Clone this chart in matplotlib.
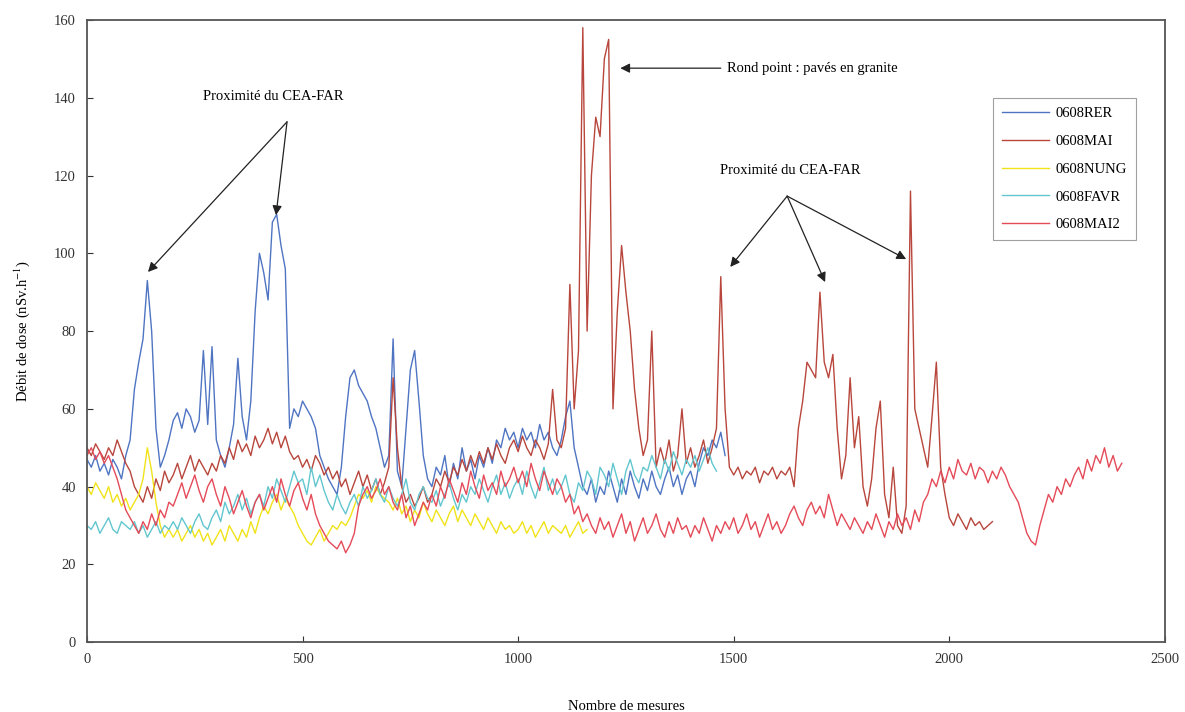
import numpy as np
import matplotlib
matplotlib.use("Agg")
import matplotlib.pyplot as plt

plt.rcParams['font.family'] = ['Liberation Serif', 'DejaVu Serif']
plt.rcParams['mathtext.fontset'] = 'stix'

STEP = 10  # measures between read-off points

series_names = ["0608RER", "0608MAI", "0608NUNG", "0608FAVR", "0608MAI2"]

rer = [47, 45, 48, 44, 46, 43, 47, 45, 42, 48,
       52, 65, 72, 78, 93, 80, 55, 45, 48, 52,
       57, 59, 55, 60, 58, 54, 57, 75, 56, 76,
       52, 48, 45, 50, 56, 73, 58, 52, 62, 85,
       100, 95, 88, 108, 110, 102, 96, 55, 60, 58,
       62, 60, 58, 55, 48, 45, 42, 40, 38, 45,
       58, 68, 70, 66, 64, 62, 58, 55, 50, 45,
       48, 78, 44, 40, 55, 70, 75, 62, 48, 42,
       40, 45, 43, 48, 40, 46, 42, 50, 44, 47,
       42, 48, 45, 50, 46, 52, 50, 55, 52, 54,
       50, 55, 52, 54, 50, 56, 52, 54, 50, 48,
       52, 58, 62, 50, 45, 40, 38, 42, 36, 40,
       38, 44, 40, 36, 42, 38, 44, 40, 37, 42,
       39, 44, 40, 38, 42, 45, 40, 43, 38, 42,
       44, 40, 46, 50, 48, 52, 50, 54, 48]

mai = [50, 48, 51, 49, 47, 50, 48, 52, 49, 46,
       44, 40, 38, 36, 40, 37, 42, 39, 44, 41,
       43, 46, 42, 45, 48, 44, 47, 45, 43, 46,
       44, 48, 46, 50, 47, 52, 49, 51, 48, 53,
       50, 52, 55, 51, 54, 50, 53, 49, 47, 48,
       45, 47, 44, 48, 46, 43, 45, 42, 44, 40,
       42, 38, 41, 44, 40, 43, 39, 42, 38, 41,
       45, 68, 50, 40, 36, 38, 35, 37, 40, 36,
       38, 42, 40, 44, 41, 45, 43, 47, 44, 48,
       45, 49, 46, 50, 47, 51, 48, 46, 50, 52,
       49, 53, 50, 48, 52, 50, 47, 51, 65, 52,
       50, 55, 92, 60, 75, 158, 80, 120, 135, 130,
       150, 155, 60, 85, 102, 90, 80, 65, 55, 48,
       52, 80, 45, 50, 46, 52, 44, 48, 60, 46,
       50, 45, 48, 52, 46, 50, 55, 94, 60, 45,
       43, 45, 42, 44, 43, 45, 41, 44, 43, 45,
       42, 44, 43, 45, 40, 55, 62, 72, 70, 68,
       90, 72, 68, 74, 55, 42, 48, 68, 50, 58,
       40, 35, 42, 55, 62, 38, 32, 45, 30, 28,
       35, 116, 60, 55, 50, 45, 58, 72, 45, 38,
       32, 30, 33, 31, 29, 32, 30, 31, 29, 30,
       31]

nung = [40, 38, 41, 39, 37, 40, 36, 38, 35, 37,
        34, 36, 38, 42, 50, 44, 36, 30, 27, 29,
        27, 29, 26, 28, 30, 27, 29, 26, 28, 25,
        27, 29, 26, 30, 28, 26, 29, 27, 31, 28,
        32, 35, 33, 36, 38, 34, 37, 35, 33, 30,
        28, 26, 25, 27, 29, 26, 28, 30, 29, 31,
        30, 32, 35, 38, 37, 39, 36, 40, 38, 37,
        36, 34, 37, 33, 35, 31, 34, 32, 36, 33,
        31, 34, 32, 30, 33, 35, 31, 34, 32, 30,
        33, 31, 29, 32, 30, 28, 31, 29, 30, 28,
        29, 31, 28, 30, 27, 29, 31, 28, 30, 29,
        28, 30, 27, 29, 31, 28, 29]

favr = [30, 29, 31, 28, 30, 32, 29, 28, 31, 30,
        29, 31, 28, 30, 27, 29, 31, 28, 30, 29,
        31, 29, 32, 30, 28, 31, 33, 30, 29, 32,
        34, 31, 36, 33, 35, 38, 34, 37, 33, 36,
        38, 35, 40, 37, 42, 39, 36, 40, 44, 41,
        42, 38, 45, 40, 43, 39, 36, 34, 38, 35,
        33, 36, 38, 35, 40, 37, 39, 42, 38, 36,
        40, 37, 35, 38, 42, 36, 34, 38, 40, 37,
        36, 39, 35, 38, 41, 37, 34, 38, 36, 40,
        38, 42, 39, 36, 40, 43, 38, 41, 37, 40,
        42, 38, 44, 40, 37, 41, 45, 39, 42, 38,
        40, 43, 38, 36, 41, 39, 44, 42, 38, 45,
        43, 40, 46, 42, 38, 44, 47, 43, 41, 45,
        44, 48, 45, 42, 47, 44, 49, 46, 43, 47,
        45, 48, 44, 47, 50, 46, 44]

mai2 = [48, 50, 47, 49, 46, 48, 45, 42, 38, 34,
        32, 30, 28, 31, 29, 33, 30, 34, 32, 36,
        35, 38, 41, 37, 40, 43, 39, 36, 40, 42,
        38, 35, 40, 37, 33, 36, 39, 35, 32, 36,
        38, 34, 37, 40, 36, 42, 38, 35, 39, 41,
        37, 34, 38, 33, 30, 28, 26, 25, 24, 26,
        23, 25, 28, 35, 38, 40, 37, 39, 42, 38,
        40, 36, 34, 38, 32, 35, 30, 33, 36, 34,
        38, 35, 40, 37, 42, 39, 36, 41, 38, 44,
        40, 37, 43, 39, 41, 38, 44, 40, 42, 45,
        41, 44, 40, 46, 42, 39, 44, 41, 38, 42,
        40, 36, 38, 33, 35, 31, 33, 30, 28, 32,
        29, 31, 27, 30, 33, 28, 31, 26, 29, 32,
        28, 30, 33, 29, 27, 31, 28, 32, 29, 30,
        27, 30, 28, 32, 29, 26, 30, 28, 31, 29,
        32, 28, 30, 33, 29, 31, 27, 30, 33, 29,
        31, 28, 30, 33, 35, 32, 30, 34, 36, 33,
        35, 32, 38, 34, 30, 33, 31, 29, 32, 30,
        28, 31, 29, 33, 30, 27, 31, 29, 33, 30,
        32, 29, 34, 31, 36, 38, 42, 40, 44, 41,
        45, 42, 47, 44, 43, 46, 42, 45, 44, 41,
        44, 42, 45, 43, 40, 38, 36, 32, 28, 26,
        25, 30, 34, 38, 36, 40, 38, 42, 40, 43,
        45, 42, 47, 44, 48, 46, 50, 45, 48, 44,
        46]

series_values = [rer, mai, nung, favr, mai2]
series_colors = ["#4F74C2", "#B8463C", "#F0E31A", "#62C6CF", "#E44A58"]

x_ticks = [0, 500, 1000, 1500, 2000, 2500]
y_ticks = [0, 20, 40, 60, 80, 100, 120, 140, 160]

fig = plt.figure(figsize=(11.85, 7.12), dpi=100)
ax = fig.add_axes([0.0734, 0.098, 0.9096, 0.874])

for name, vals, col in zip(series_names, series_values, series_colors):
    xs = np.arange(len(vals)) * STEP
    ax.plot(xs, vals, color=col, lw=1.0, label=name)

ax.set_xlim(0, 2500)
ax.set_ylim(0, 160)
ax.set_xticks(x_ticks)
ax.set_yticks(y_ticks)
ax.tick_params(direction='in', length=4, width=0.8, labelsize=10.5, colors='#333333', pad=8)
for sp in ax.spines.values():
    sp.set_color('#555555')
    sp.set_linewidth(1.3)

ax.set_xlabel("Nombre de mesures", fontsize=10.5, labelpad=24)
ax.set_ylabel(r"Débit de dose (nSv.h$^{-1}$)", fontsize=10.5, labelpad=16)

leg = ax.legend(loc='upper right', bbox_to_anchor=(0.98, 0.886), fontsize=10.5,
                frameon=True, fancybox=False, edgecolor='#888888', handlelength=3.2,
                labelspacing=1.0, borderpad=0.6, handletextpad=0.5)
leg.get_frame().set_linewidth(0.8)

aprops = dict(arrowstyle='-|>', color='#222222', lw=0.9, mutation_scale=14, shrinkA=0, shrinkB=0)

ax.text(431, 140.2, "Proximité du CEA-FAR", ha='center', va='center', fontsize=10.5)
for tx, ty in [(141.5, 95.2), (438.5, 109.8)]:
    ax.annotate("", xy=(tx, ty), xytext=(464, 133.8), arrowprops=aprops)

ax.text(1485, 147.6, "Rond point : pavés en granite", ha='left', va='center', fontsize=10.5)
ax.annotate("", xy=(1237, 147.6), xytext=(1470, 147.6), arrowprops=aprops)

ax.text(1631, 121.4, "Proximité du CEA-FAR", ha='center', va='center', fontsize=10.5)
for tx, ty in [(1492, 96.5), (1712, 92.6), (1900, 98.5)]:
    ax.annotate("", xy=(tx, ty), xytext=(1624, 114.7), arrowprops=aprops)

fig.savefig("out.png", dpi=100)
